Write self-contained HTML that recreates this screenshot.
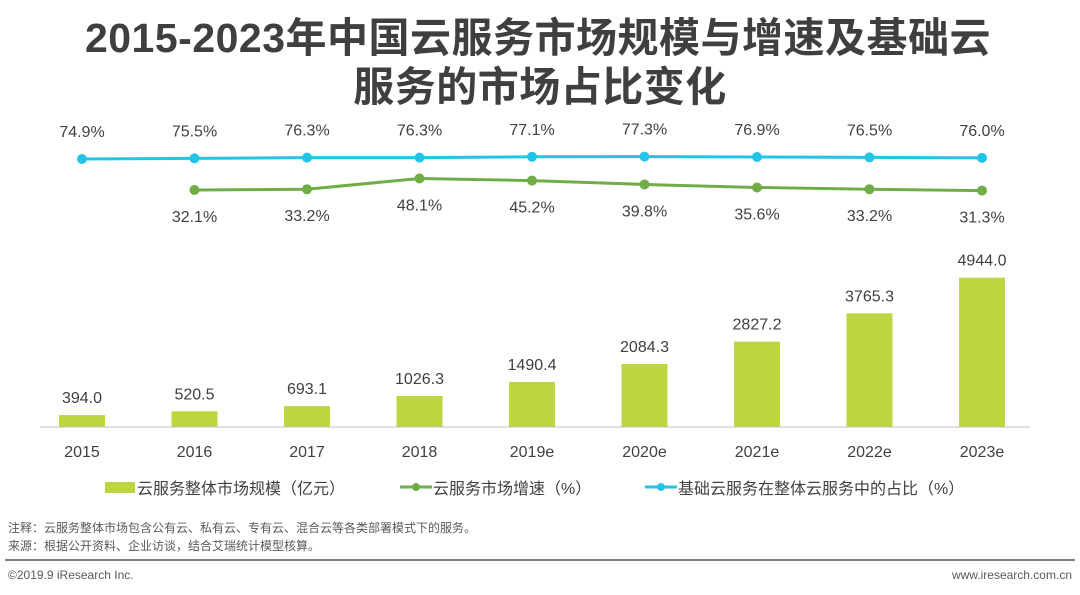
<!DOCTYPE html>
<html><head><meta charset="utf-8"><style>
body{margin:0;background:#fff;}
svg text{font-family:"Liberation Sans","Noto Sans CJK SC",sans-serif;}
</style></head><body>
<svg width="1080" height="590" viewBox="0 0 1080 590">
<text x="538" y="52" text-anchor="middle" font-size="41" font-weight="bold" fill="#3f3f3f" letter-spacing="0.5">2015-2023年中国云服务市场规模与增速及基础云</text>
<text x="540" y="101" text-anchor="middle" font-size="41" font-weight="bold" fill="#3f3f3f" letter-spacing="0.5">服务的市场占比变化</text>
<g id="plot"></g>
<line x1="40" y1="427" x2="1030" y2="427" stroke="#bfbfbf" stroke-width="1"/>
<g font-size="16" fill="#404040">
<rect x="105" y="482" width="30" height="11" fill="#bcd63f"/>
<text x="137" y="494">云服务整体市场规模（亿元）</text>
<line x1="400" y1="487" x2="432" y2="487" stroke="#70ad47" stroke-width="3"/>
<circle cx="416" cy="487" r="4" fill="#70ad47"/>
<text x="433" y="494">云服务市场增速（%）</text>
<line x1="645" y1="487" x2="677" y2="487" stroke="#22c5e8" stroke-width="3"/>
<circle cx="661" cy="487" r="4" fill="#22c5e8"/>
<text x="678" y="494">基础云服务在整体云服务中的占比（%）</text>
</g>
<text x="8" y="532" font-size="12" fill="#595959">注释：云服务整体市场包含公有云、私有云、专有云、混合云等各类部署模式下的服务。</text>
<text x="8" y="550" font-size="12" fill="#595959">来源：根据公开资料、企业访谈，结合艾瑞统计模型核算。</text>
<line x1="5" y1="560" x2="1075" y2="560" stroke="#7f7f7f" stroke-width="2"/>
<text x="8" y="579" font-size="12" fill="#595959">©2019.9 iResearch Inc.</text>
<text x="1072" y="579" font-size="12" fill="#595959" text-anchor="end">www.iresearch.com.cn</text>
</svg>
<script>
const categories=["2015","2016","2017","2018","2019e","2020e","2021e","2022e","2023e"];
const marketSize=[394.0,520.5,693.1,1026.3,1490.4,2084.3,2827.2,3765.3,4944.0];
const growth=[null,32.1,33.2,48.1,45.2,39.8,35.6,33.2,31.3];
const share=[74.9,75.5,76.3,76.3,77.1,77.3,76.9,76.5,76.0];
const NS="http://www.w3.org/2000/svg";
const g=document.getElementById('plot');
const xPos=i=>82+i*112.5;
const yBar=v=>427-v*0.0302;
const yShare=v=>159-(v-74.9)*1.0;
const yGrowth=v=>190-(v-32.1)*0.72;
function mk(t,a){const e=document.createElementNS(NS,t);for(const k in a)e.setAttribute(k,a[k]);g.appendChild(e);return e;}
categories.forEach((c,i)=>{
 const x=xPos(i),v=marketSize[i];
 const r=mk('rect',{x:x-23,y:yBar(v),width:46,height:427-yBar(v),fill:'#bcd63f'});
 
 
 const t=mk('text',{x:x,y:yBar(v)-12,'text-anchor':'middle','font-size':16,fill:'#404040'});
 t.textContent=v.toFixed(1);
 
 
 const l=mk('text',{x:x,y:457,'text-anchor':'middle','font-size':16,fill:'#404040'});
 l.textContent=c;
 
 
});
function line(vals,yf,color,name,above){
 const pts=[];vals.forEach((v,i)=>{if(v!==null)pts.push([xPos(i),yf(v),v,i]);});
 const p=mk('polyline',{points:pts.map(p=>p[0]+','+p[1]).join(' '),fill:'none',stroke:color,'stroke-width':3});
 
 
 pts.forEach(q=>{
  const c=mk('circle',{cx:q[0],cy:q[1],r:5,fill:color});
  
  
  const t=mk('text',{x:q[0],y:above?q[1]-22:q[1]+32,'text-anchor':'middle','font-size':16,fill:'#404040'});
  t.textContent=q[2].toFixed(1)+'%';
  
  
 });
}
line(share,yShare,'#22c5e8','share',true);
line(growth,yGrowth,'#70ad47','growth',false);
</script>
</body></html>
